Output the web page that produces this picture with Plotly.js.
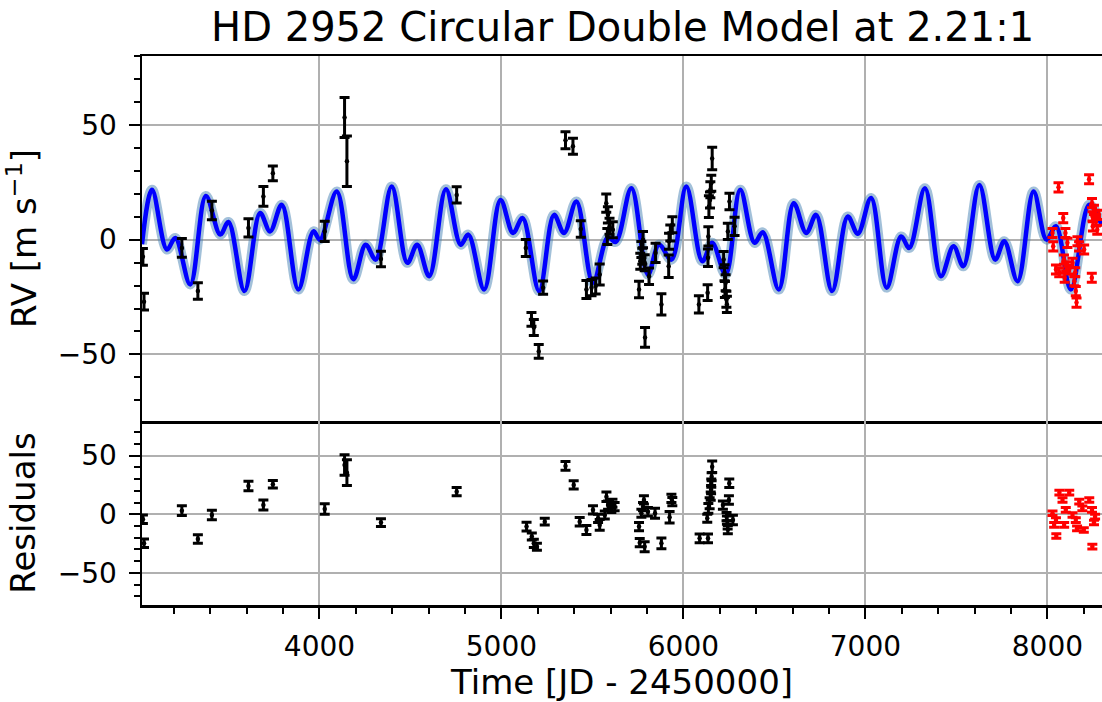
<!DOCTYPE html>
<html>
<head>
<meta charset="utf-8">
<script src="https://cdn.plot.ly/plotly-3.0.1.min.js"></script>
<style>html,body{margin:0;padding:0;background:#fff;}#chart{width:1102px;height:702px;}</style>
</head>
<body>
<div id="chart"></div>
<script>
// Model curve (read at its turning points)
const modelTime = [3025,3080,3162,3208,3290,3376,3455,3500,3588,3674,3729,3793,3884,3967,4003,4095,4186,4254,4309,4397,4483,4537,4603,4695,4776,4818,4905,4995,5064,5116,5207,5289,5344,5412,5503,5585,5628,5714,5805,5866,5934,6016,6104,6158,6232,6312,6391,6436,6524,6606,6675,6729,6817,6903,6958,7031,7117,7196,7241,7327,7415,7484,7538,7626,7713,7763,7836,7924,7995,8047,8129,8230,8300];
const modelRV   = [-2,21.7,-4.3,0.7,-19.5,19,2.2,7.7,-22.4,11.6,3.6,15.2,-21.7,3.6,0,21,-17.3,-2.2,-8.7,23.1,-10.1,-2.2,-15.9,22,-2.2,2.2,-21.7,17.3,2.9,9.4,-22.4,10.8,2.9,16.6,-18.8,1,-1,22.4,-15.2,-2.2,-8.7,23.1,-9.4,-1.4,-15.2,21.7,-1.4,3.2,-21.7,15.9,2.9,10.8,-22.4,10.1,2.6,18.1,-20.9,1.4,-3.6,22.4,-15.9,-2.9,-11.6,23.8,-8.7,-0.7,-18.1,21,0,5.8,-21.7,15.2,6];

// Black data set (top panel)
const blackT   = [3030,3036,3244,3332,3409,3610,3692,3744,4029,4138,4151,4338,4754,5134,5165,5178,5205,5229,5352,5393,5436,5467,5495,5518,5540,5576,5582,5585,5594,5612,5756,5763,5769,5774,5778,5787,5789,5811,5847,5879,5919,5921,5928,5939,6085,6133,6135,6137,6140,6146,6148,6153,6158,6221,6226,6228,6232,6236,6239,6244,6253,6281];
const blackRV  = [-7.5,-27,-3.6,-22.4,12.7,5.1,18.8,28.9,3.6,53.2,34.2,-8.4,19.5,-3.6,-34.7,-38.3,-48.7,-20.9,43.3,40.7,4.6,-21.7,-20.9,-20.2,-15.2,15.9,1.4,10.8,5.8,4.3,-21.7,-9.4,-4.3,-7.2,0,-10.1,-42.6,-15.9,-5.8,-28.2,-11.6,-0.7,2.9,6.5,-28.2,-23.1,-7.9,1.4,14.4,17.3,21.7,24.6,35.4,-8.7,-14.4,-21.7,-18.8,-26,-28.2,3.6,16.6,5.8];
const blackErr = [3.6,3.6,4.1,3.6,4.0,4.0,4.3,3.2,4.4,8.7,11.0,3.4,3.5,3.7,3.0,3.5,3.0,2.9,3.7,3.5,3.6,3.9,3.5,3.5,4.6,4.0,3.5,3.5,3.5,3.5,3.6,3.5,3.5,3.5,3.5,3.5,4.3,3.6,4.2,4.6,4.9,3.5,3.5,3.5,3.8,3.4,3.8,4.2,4.7,3.5,3.5,3.5,4.9,3.5,3.5,3.5,3.5,3.5,3.5,3.5,3.6,4.0];

// Red data set (top panel)
const redT   = [8061,8229,8087,8028,8032,8099,8110,8165,8174,8202,8047,8065,8091,8103,8138,8153,8095,8148,8156,8160,8244,8245,8256,8248,8266,8250,8274,8283,8120];
const redRV  = [22.8,26.3,9.4,2.9,-2.9,2.9,-1.4,-0.7,-2.9,-4.3,-13,-14.2,-8.7,-11.6,-10.1,-14.2,-16.6,-18.1,-22.4,-27.4,-16.6,15.9,13,10.1,7.9,5.8,4.3,10.8,-13];
const redErr = [2.0,2.0,2.0,2.0,2.0,2.0,2.0,2.0,2.0,2.0,2.0,2.0,2.0,2.0,2.0,2.0,2.0,2.0,2.0,2.0,2.0,2.0,2.0,2.0,2.0,2.0,2.0,2.0,2.0];

// Residuals (bottom panel)
const blackResT   = [3030,3036,3244,3332,3409,3610,3692,3744,4029,4138,4151,4338,4754,5138,5167,5178,5195,5238,5352,5397,5430,5467,5503,5531,5540,5568,5577,5586,5604,5610,5622,5756,5760,5769,5778,5783,5787,5805,5844,5879,5924,5934,5939,6089,6131,6135,6137,6144,6150,6152,6153,6155,6158,6217,6237,6239,6243,6244,6250,6252,6272];
const blackRes    = [-4.3,-24.7,3.1,-21,-0.6,24.1,7.9,25.6,4.5,42,35.5,-7.1,19.3,-10.5,-19,-24.7,-27.6,-6.3,41.2,25,-6.3,-13.4,3.7,-3.4,-9.1,-0.6,15,7.9,5.1,9.4,6.5,-10.5,-24.2,0.9,6.5,12.2,-27.6,2.2,0.9,-24.7,-2.6,13.6,10.8,-20.5,-3.4,-20.5,5.1,9.4,15.5,21,26.6,32,40.6,7.9,-2,-5,-9,-13,12.2,26.4,-4.9];
const blackResErr = [3.6,3.6,4.1,3.6,4.0,4.0,4.3,3.2,4.4,8.7,11.0,3.4,3.5,3.7,3.0,3.5,3.0,2.9,3.7,3.5,3.6,3.9,3.5,3.5,4.6,3.5,4.0,3.5,3.5,3.5,3.5,3.6,3.5,3.5,3.5,3.5,4.3,3.6,4.2,4.6,4.9,3.5,3.5,3.8,3.4,3.8,4.2,4.7,3.5,3.5,3.5,3.5,4.9,3.5,3.5,3.5,3.5,3.5,3.6,3.6,4.0];

const redResT   = [8066,8120,8083,8175,8230,8028,8047,8037,8049,8101,8138,8092,8156,8163,8200,8247,8245,8262,8256,8192];
const redRes    = [18.4,18.4,12.2,10.8,12.2,0.9,-4.9,-9.1,-18.5,3.7,-0.6,-9.1,-4.9,-12,-13.4,-27.6,3.7,-2,-7,5.1];
const redResErr = [2.0,2.0,2.0,2.0,2.0,2.0,2.0,2.0,2.0,2.0,2.0,2.0,2.0,2.0,2.0,2.0,2.0,2.0,2.0,2.0];

const FONT = 'DejaVu Sans, Liberation Sans, sans-serif';

function errTrace(x, y, e, color, xa, ya) {
  return {
    type: 'scatter', mode: 'markers', x: x, y: y, xaxis: xa, yaxis: ya,
    marker: {color: color, size: 4.5},
    error_y: {type: 'data', array: e, visible: true, color: color, thickness: 3, width: 5},
    hoverinfo: 'x+y'
  };
}

const traces = [
  {type: 'scatter', mode: 'lines', x: modelTime, y: modelRV, xaxis: 'x', yaxis: 'y',
   line: {color: 'rgba(70,130,180,0.5)', width: 10, shape: 'spline', smoothing: 1}, hoverinfo: 'skip'},
  {type: 'scatter', mode: 'lines', x: modelTime, y: modelRV, xaxis: 'x', yaxis: 'y',
   line: {color: '#0000ff', width: 4.5, shape: 'spline', smoothing: 1}},
  errTrace(blackT, blackRV, blackErr, 'black', 'x', 'y'),
  errTrace(redT, redRV, redErr, '#ff0000', 'x', 'y'),
  errTrace(blackResT, blackRes, blackResErr, 'black', 'x2', 'y2'),
  errTrace(redResT, redRes, redResErr, '#ff0000', 'x2', 'y2')
];

const GRID = '#b0b0b0';
const split = 184 / 549;

const layout = {
  width: 1102, height: 702,
  margin: {l: 142, r: 0, t: 56, b: 97},
  paper_bgcolor: 'white', plot_bgcolor: 'white',
  showlegend: false,
  font: {family: FONT, color: 'black'},
  title: {text: 'HD 2952 Circular Double Model at 2.21:1', font: {size: 40, family: FONT, color: 'black'},
          x: 0.565, xref: 'container', xanchor: 'center', y: 0.962, yref: 'container', yanchor: 'middle'},
  xaxis: {anchor: 'y', domain: [0, 1], range: [3025, 8300], tick0: 0, dtick: 1000,
          showticklabels: false, ticks: '', showgrid: true, gridcolor: GRID, gridwidth: 2,
          zeroline: false, showline: true, mirror: true, linecolor: 'black', linewidth: 2.5, matches: 'x2'},
  yaxis: {anchor: 'x', domain: [split, 1], range: [-79, 80], tick0: 0, dtick: 50,
          ticks: 'outside', ticklen: 11, tickwidth: 2, tickcolor: 'black',
          minor: {tick0: 0, dtick: 10, ticks: 'outside', ticklen: 6, tickwidth: 2, tickcolor: 'black', showgrid: false},
          showgrid: true, gridcolor: GRID, gridwidth: 2, zeroline: false,
          showline: true, linecolor: 'black', linewidth: 2.5,
          tickfont: {size: 28}, ticklabelstandoff: 6,
          title: {text: 'RV [m s<sup>−1</sup>]', font: {size: 34}, standoff: 12}},
  xaxis2: {anchor: 'y2', domain: [0, 1], range: [3025, 8300], tick0: 0, dtick: 1000,
          ticks: 'outside', ticklen: 11, tickwidth: 2, tickcolor: 'black',
          minor: {tick0: 0, dtick: 200, ticks: 'outside', ticklen: 6, tickwidth: 2, tickcolor: 'black', showgrid: false},
          showgrid: true, gridcolor: GRID, gridwidth: 2, zeroline: false,
          showline: true, mirror: false, linecolor: 'black', linewidth: 2.5,
          tickfont: {size: 28}, ticklabelstandoff: 4,
          title: {text: 'Time [JD - 2450000]', font: {size: 34}, standoff: 5}},
  yaxis2: {anchor: 'x2', domain: [0, split], range: [-77.3, 79.5], tick0: 0, dtick: 50,
          ticks: 'outside', ticklen: 11, tickwidth: 2, tickcolor: 'black',
          minor: {tick0: 0, dtick: 10, ticks: 'outside', ticklen: 6, tickwidth: 2, tickcolor: 'black', showgrid: false},
          showgrid: true, gridcolor: GRID, gridwidth: 2, zeroline: false,
          showline: true, linecolor: 'black', linewidth: 2.5,
          tickfont: {size: 28}, ticklabelstandoff: 6,
          title: {text: 'Residuals', font: {size: 34}, standoff: 12}}
};

Plotly.newPlot('chart', traces, layout, {displayModeBar: false, staticPlot: true});
</script>
</body>
</html>
